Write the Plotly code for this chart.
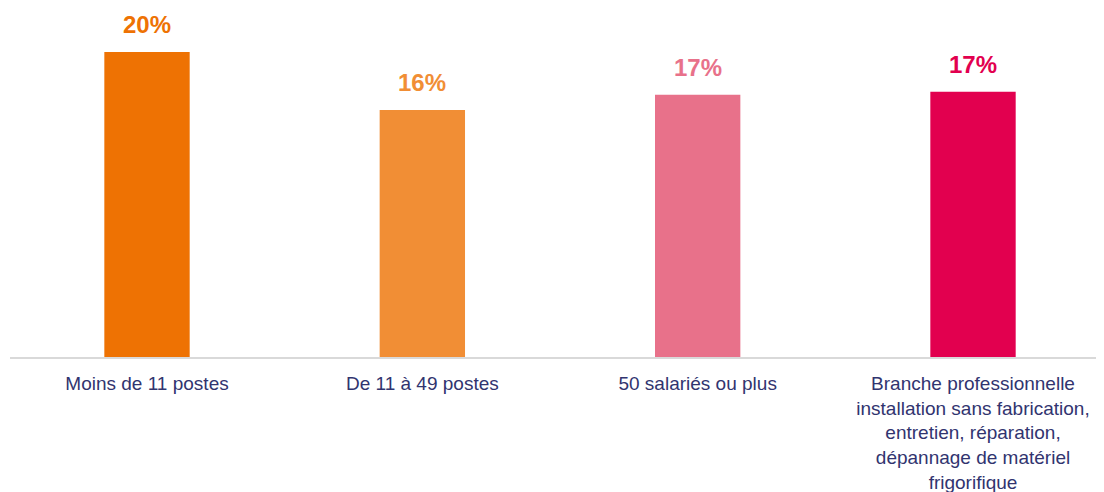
import plotly.graph_objects as go

categories = [
    "Moins de 11 postes",
    "De 11 à 49 postes",
    "50 salariés ou plus",
    "Branche professionnelle<br>installation sans fabrication,<br>entretien, réparation,<br>dépannage de matériel<br>frigorifique",
]
values = [20.0, 16.2, 17.2, 17.4]
labels = ["20%", "16%", "17%", "17%"]
colors = ["#EE7203", "#F18E35", "#E8718A", "#E2004F"]

fig = go.Figure(go.Bar(
    x=categories,
    y=values,
    marker=dict(color=colors, line=dict(width=0)),
    hoverinfo="skip",
))

# value labels above bars, coloured like the bars
for c, v, t, col in zip(categories, values, labels, colors):
    fig.add_annotation(
        x=c, y=v, text="<b>%s</b>" % t,
        showarrow=False, yanchor="bottom", yshift=12,
        font=dict(family="Liberation Sans, Arial, sans-serif", size=24, color=col),
    )

# page body has an 8px margin, margins below compensate for it
fig.update_layout(
    width=1104, height=492,
    margin=dict(l=2, r=0, t=12, b=143),
    paper_bgcolor="white", plot_bgcolor="white",
    bargap=0.69,
    showlegend=False,
    font=dict(family="Liberation Sans, Arial, sans-serif"),
    xaxis=dict(
        range=[-0.4976, 3.5048],
        showgrid=False, zeroline=False,
        showline=True, linecolor="#D9D9D9", linewidth=2,
        ticks="", ticklabelstandoff=8,
        tickfont=dict(size=19, color="#31346F"),
    ),
    yaxis=dict(
        range=[0, 22.1], visible=False, showgrid=False, zeroline=False,
    ),
)

fig.write_html("out.html")
